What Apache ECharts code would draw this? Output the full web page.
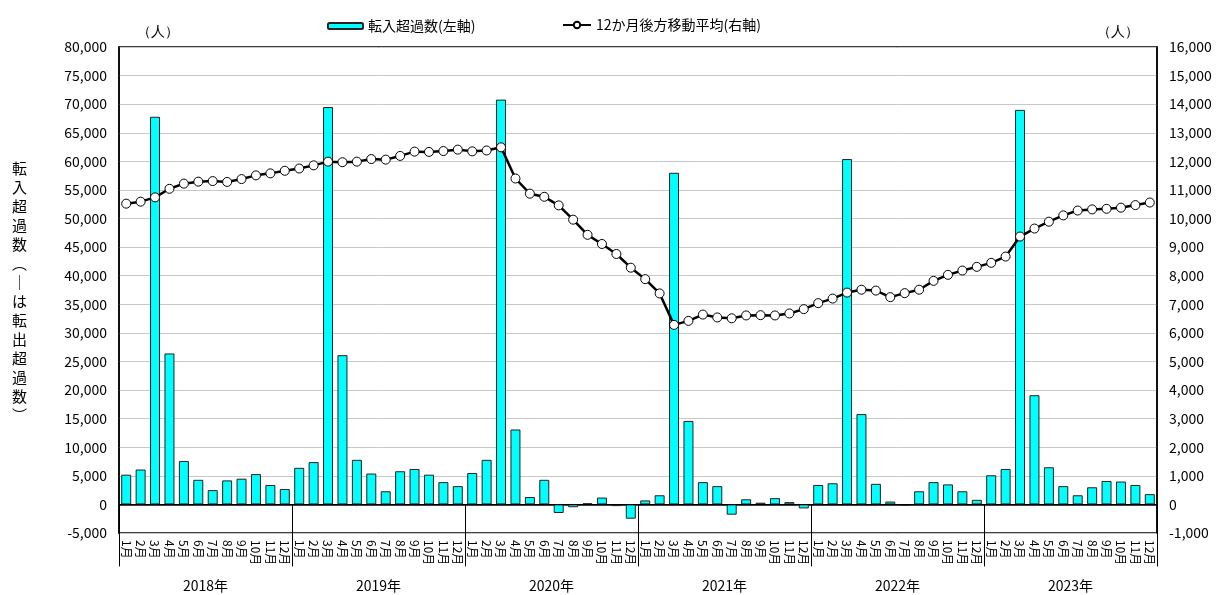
<!DOCTYPE html>
<html>
<head>
<meta charset="utf-8">
<script src="https://cdn.jsdelivr.net/npm/echarts@6/dist/echarts.min.js"></script>
<style>
  html, body { margin: 0; padding: 0; background: #fff; }
  #chart { width: 1229px; height: 595px; }
</style>
</head>
<body>
<div id="chart"></div>
<script>
// 年・月
const years = ['2018年', '2019年', '2020年', '2021年', '2022年', '2023年']
const months = ['1月', '2月', '3月', '4月', '5月', '6月', '7月', '8月', '9月', '10月', '11月', '12月']

// 転入超過数（左軸）
const netInflow = [
  5200, 6100, 67800, 26400, 7600, 4300, 2500, 4200, 4500, 5300, 3400, 2700,
  6400, 7400, 69500, 26100, 7800, 5400, 2300, 5800, 6200, 5200, 3900, 3200,
  5500, 7800, 70800, 13100, 1300, 4300, -1500, -500, 200, 1200, -300, -2500,
  700, 1600, 58000, 14600, 3900, 3200, -1800, 900, 300, 1100, 400, -700,
  3400, 3700, 60400, 15800, 3600, 500, -200, 2300, 3900, 3500, 2300, 800,
  5100, 6200, 69000, 19100, 6500, 3200, 1600, 3000, 4100, 4000, 3400, 1800
]

// 12か月後方移動平均（右軸）
const movingAvg = [
  10520, 10590, 10740, 11040, 11220, 11290, 11310, 11280, 11380, 11510, 11580, 11670,
  11750, 11860, 11990, 11970, 11990, 12080, 12060, 12190, 12340, 12330, 12360, 12410,
  12350, 12380, 12490, 11400, 10870, 10760, 10460, 9960, 9430, 9110, 8760, 8280,
  7880, 7380, 6280, 6420, 6640, 6540, 6510, 6610, 6620, 6610, 6680, 6830,
  7040, 7200, 7410, 7510, 7480, 7250, 7390, 7510, 7820, 8030, 8180, 8310,
  8450, 8670, 9370, 9650, 9890, 10110, 10280, 10320, 10340, 10380, 10470, 10560
]

const xData = []
years.forEach(y => months.forEach(m => xData.push(y + m)))

const fontFamily = '"Noto Sans CJK JP", "Noto Sans", sans-serif'
const fmt = v => v.toLocaleString('en-US')

const chart = echarts.init(document.getElementById('chart'))

const option = {
  animation: false,
  textStyle: { fontFamily: fontFamily, color: '#000' },
  legend: [
    {
      left: 322,
      top: 14,
      itemWidth: 35,
      itemHeight: 6,
      itemGap: 5,
      textStyle: { fontSize: 14, color: '#000' },
      data: ['転入超過数(左軸)']
    },
    {
      left: 557,
      top: 13,
      itemWidth: 28,
      itemHeight: 8,
      textStyle: { fontSize: 14, color: '#000' },
      data: ['12か月後方移動平均(右軸)']
    }
  ],
  grid: {
    left: 119,
    right: 72,
    top: 47,
    bottom: 62,
    show: true,
    borderColor: '#000',
    borderWidth: 1.5
  },
  graphic: [
    {
      type: 'text',
      left: 137,
      top: 25,
      style: { text: '（人）', fontSize: 14, fill: '#000', font: '14px ' + fontFamily }
    },
    {
      type: 'text',
      left: 1097,
      top: 25,
      style: { text: '（人）', fontSize: 14, fill: '#000', font: '14px ' + fontFamily }
    },
    {
      type: 'text',
      left: 12,
      top: 159,
      style: {
        text: '転入超過数︵｜は転出超過数︶'.split('').join('\n'),
        font: '15px ' + fontFamily,
        lineHeight: 19,
        fill: '#000',
        align: 'center'
      }
    }
  ],
  xAxis: [
    {
      type: 'category',
      position: 'bottom',
      data: xData,
      axisLine: { lineStyle: { color: '#000', width: 1.5 } },
      axisTick: { show: false },
      axisLabel: {
        interval: 0,
        rotate: -90,
        margin: 7,
        fontSize: 12,
        color: '#000',
        formatter: v => v.slice(5)
      }
    },
    {
      type: 'category',
      position: 'bottom',
      data: years,
      axisLine: { show: false },
      axisTick: { show: true, length: 62, interval: 0, lineStyle: { color: '#000', width: 1 } },
      axisLabel: { interval: 0, margin: 46, fontSize: 14, color: '#000' },
      splitLine: { show: false }
    }
  ],
  yAxis: [
    {
      type: 'value',
      min: -5000,
      max: 80000,
      interval: 5000,
      axisLine: { show: true, lineStyle: { color: '#000', width: 1.5 } },
      axisTick: { show: false },
      axisLabel: { fontSize: 14, color: '#000', margin: 12, formatter: fmt },
      splitLine: { lineStyle: { color: '#c8c8c8', width: 1 } }
    },
    {
      type: 'value',
      min: -1000,
      max: 16000,
      interval: 1000,
      axisLine: { show: true, lineStyle: { color: '#000', width: 1.5 } },
      axisTick: { show: false },
      axisLabel: { fontSize: 14, color: '#000', margin: 12, formatter: fmt },
      splitLine: { show: false }
    }
  ],
  series: [
    {
      name: '転入超過数(左軸)',
      type: 'bar',
      xAxisIndex: 0,
      yAxisIndex: 0,
      barWidth: 10,
      itemStyle: { color: '#00ffff', borderColor: '#222', borderWidth: 1 },
      data: netInflow,
      markLine: {
        silent: true,
        symbol: 'none',
        label: { show: false },
        lineStyle: { color: '#000', width: 1, type: 'solid' },
        data: [{ yAxis: 0 }]
      }
    },
    {
      name: '12か月後方移動平均(右軸)',
      type: 'line',
      xAxisIndex: 0,
      yAxisIndex: 1,
      symbol: 'circle',
      symbolSize: 9,
      lineStyle: { color: '#000', width: 2.5 },
      itemStyle: { color: '#fff', borderColor: '#000', borderWidth: 1 },
      data: movingAvg
    }
  ]
}

chart.setOption(option)
</script>
</body>
</html>
